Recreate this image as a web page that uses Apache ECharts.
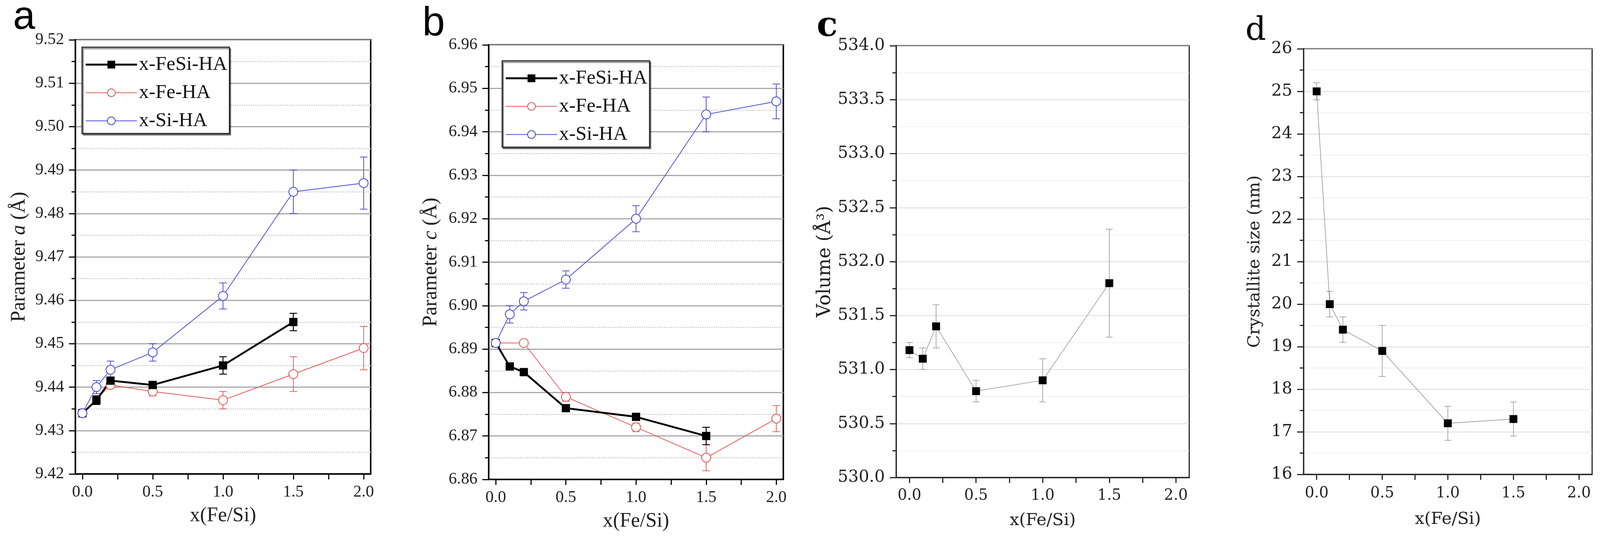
<!DOCTYPE html>
<html style="height:100%;width:100%">
<head>
<meta charset="UTF-8">
<title>Lattice parameters, volume and crystallite size</title>
<style type="text/css">
	html, body { margin:0; padding:0; width:100%; height:100%; overflow:hidden; background:#FFFFFF; }
	#container { width:100%; height:100%; }
</style>
<script src="https://cdn.jsdelivr.net/npm/echarts@6/dist/echarts.min.js"></script>
</head>
<body>
<div id="container"></div>

<script type="text/javascript">

// x positions (Fe/Si ratio) for each sample family
var xFeSi = [0, 0.1, 0.2, 0.5, 1.0, 1.5];
var xFe = [0, 0.2, 0.5, 1.0, 1.5, 2.0];
var xSi = [0, 0.1, 0.2, 0.5, 1.0, 1.5, 2.0];

// panel a: lattice parameter a (A)
var aFeSi = [9.434, 9.437, 9.4415, 9.4405, 9.445, 9.455];
var aFeSiErr = [0.0005, 0.001, 0.0005, 0.0005, 0.002, 0.002];
var aFe = [9.434, 9.4405, 9.439, 9.437, 9.443, 9.449];
var aFeErr = [0.0005, 0.0005, 0.001, 0.002, 0.004, 0.005];
var aSi = [9.434, 9.440, 9.444, 9.448, 9.461, 9.485, 9.487];
var aSiErr = [0.0005, 0.0015, 0.002, 0.002, 0.003, 0.005, 0.006];

// panel b: lattice parameter c (A)
var cFeSi = [6.8914, 6.886, 6.8847, 6.8764, 6.8744, 6.870];
var cFeSiErr = [0.0005, 0.0005, 0.0005, 0.0005, 0.0005, 0.002];
var cFe = [6.8914, 6.8914, 6.879, 6.872, 6.865, 6.874];
var cFeErr = [0.0005, 0.0005, 0.001, 0.001, 0.003, 0.003];
var cSi = [6.8914, 6.898, 6.901, 6.906, 6.920, 6.944, 6.947];
var cSiErr = [0.0005, 0.002, 0.002, 0.002, 0.003, 0.004, 0.004];

// panel c: cell volume (A^3), panel d: crystallite size (nm)
var xSingle = [0, 0.1, 0.2, 0.5, 1.0, 1.5];
var volume = [531.18, 531.10, 531.40, 530.80, 530.90, 531.80];
var volumeErr = [0.07, 0.1, 0.2, 0.1, 0.2, 0.5];
var crystSize = [25.0, 20.0, 19.4, 18.9, 17.2, 17.3];
var crystSizeErr = [0.2, 0.3, 0.3, 0.6, 0.4, 0.4];

// axis ticks
var xTickValues = [0, 0.25, 0.5, 0.75, 1.0, 1.25, 1.5, 1.75, 2.0];
var xLabelValues = [0, 0.5, 1.0, 1.5, 2.0];
var legendNames = ['x-FeSi-HA', 'x-Fe-HA', 'x-Si-HA'];

var serifAB = 'Liberation Serif';
var serifCD = 'DejaVu Serif';
var colBlack = '#000000';
var colRed = '#E25A5A';
var colBlue = '#4B4BD2';
var colGray = '#8C8C8C';

var dom = document.getElementById('container');

// layout was measured on a 4269 x 1378 canvas, scale it to the real container
var sx = dom.clientWidth / 4269;
var sy = dom.clientHeight / 1378;
var ss = Math.min(sx, sy);
function X(v) { return v * sx; }
function Y(v) { return v * sy; }
function S(v) { return v * ss; }

function pairs(xs, ys) {
	var out = [];
	for (var i = 0; i < xs.length; i++) out.push([xs[i], ys[i]]);
	return out;
}

function errData(xs, ys, es) {
	var out = [];
	for (var i = 0; i < xs.length; i++) out.push([xs[i], ys[i] - es[i], ys[i] + es[i]]);
	return out;
}

// vertical bar with caps, placed through the axis scales
function errRender(color, width, cap) {
	return function (params, api) {
		var x = api.value(0);
		var top = api.coord([x, api.value(2)]);
		var bot = api.coord([x, api.value(1)]);
		var st = { stroke: color, lineWidth: S(width) };
		var c = S(cap);
		return {
			type: 'group',
			children: [
				{ type: 'line', shape: { x1: top[0], y1: top[1], x2: bot[0], y2: bot[1] }, style: st },
				{ type: 'line', shape: { x1: top[0] - c, y1: top[1], x2: top[0] + c, y2: top[1] }, style: st },
				{ type: 'line', shape: { x1: bot[0] - c, y1: bot[1], x2: bot[0] + c, y2: bot[1] }, style: st }
			]
		};
	};
}

function errSeries(idx, data, color, width, cap) {
	return {
		type: 'custom', xAxisIndex: idx, yAxisIndex: idx,
		renderItem: errRender(color, width, cap),
		encode: { x: 0, y: [1, 2] },
		data: data, silent: true, animation: false
	};
}

function lineSeries(idx, name, data, color, symbol, size, width, markColor) {
	return {
		type: 'line', name: name, xAxisIndex: idx, yAxisIndex: idx,
		data: data, symbol: symbol, symbolSize: S(size), showAllSymbol: true,
		lineStyle: { color: color, width: S(width) },
		itemStyle: { color: markColor || color, borderColor: markColor || color, borderWidth: symbol == 'emptyCircle' ? S(2) : 0 },
		emphasis: { disabled: true }, animation: false
	};
}

function xAxisFor(idx, font, frame, frameW, labelSize, labelMargin, nameSize, nameGap, min, max) {
	return {
		gridIndex: idx, type: 'value', min: min, max: max,
		axisLine: { show: true, onZero: false, lineStyle: { color: frame, width: S(frameW) } },
		axisTick: { show: true, customValues: xTickValues, length: Y(14), lineStyle: { color: frame, width: S(3) } },
		axisLabel: {
			customValues: xLabelValues, margin: Y(labelMargin),
			fontFamily: font, fontSize: S(labelSize), color: '#222',
			formatter: function (v) { return v.toFixed(1); }
		},
		splitLine: { show: false },
		name: 'x(Fe/Si)', nameLocation: 'middle', nameGap: Y(nameGap),
		nameTextStyle: { fontFamily: font, fontSize: S(nameSize), color: '#222' }
	};
}

function yAxisFor(idx, font, frame, frameW, min, max, interval, digits, major, minor, minorType, name, nameSize, nameGap) {
	return {
		gridIndex: idx, type: 'value', min: min, max: max, interval: interval,
		axisLine: { show: true, onZero: false, lineStyle: { color: frame, width: S(frameW) } },
		axisTick: { show: true, length: X(17), lineStyle: { color: frame, width: S(3) } },
		minorTick: { show: true, splitNumber: 2, length: X(10), lineStyle: { color: frame, width: S(3) } },
		splitLine: { show: true, lineStyle: { color: major.color, width: S(major.width) } },
		minorSplitLine: { show: true, lineStyle: { color: minor.color, width: S(minor.width), type: minorType } },
		axisLabel: {
			margin: X(30), fontFamily: font, fontSize: S(44), color: '#222',
			formatter: function (v) { return v.toFixed(digits); }
		},
		name: name, nameLocation: 'middle', nameGap: X(nameGap),
		nameTextStyle: {
			fontFamily: font, fontSize: S(nameSize), color: '#222',
			rich: {
				a: { fontFamily: font, fontSize: S(nameSize), color: '#222' },
				i: { fontFamily: font, fontSize: S(nameSize), fontStyle: 'italic', color: '#222' }
			}
		}
	};
}

var majorAB = { color: '#A9A9A9', width: 3 };
var minorAB = { color: '#CDCDCD', width: 3 };
var majorCD = { color: '#CFCFCF', width: 1.5 };
var minorCD = { color: '#EBEBEB', width: 1.5 };

function legendAt(left, top) {
	return {
		data: legendNames, orient: 'vertical', left: X(left), top: Y(top),
		padding: [Y(19), X(6), Y(7), X(7)], itemGap: Y(21), itemWidth: X(137), itemHeight: S(26),
		itemTextGap: X(14),
		lineStyle: { width: 'inherit' },
		backgroundColor: '#FFFFFF', borderColor: '#222', borderWidth: S(3),
		shadowColor: 'rgba(0,0,0,0.45)', shadowOffsetX: S(3), shadowOffsetY: S(4), shadowBlur: 0,
		textStyle: { fontFamily: serifAB, fontSize: S(53), color: '#111' },
		selectedMode: false
	};
}

function grid(left, top, width, height, border, borderW) {
	return {
		left: X(left), top: Y(top), width: X(width), height: Y(height),
		show: true, borderColor: border, borderWidth: S(borderW), outerBoundsMode: 'none'
	};
}

function panelLabel(text, left, top, font, size, weight) {
	return {
		text: text, left: X(left), top: Y(top), padding: 0,
		textStyle: { fontFamily: font, fontSize: S(size), fontWeight: weight, color: '#000' }
	};
}

var myChart = echarts.init(dom, null, { renderer: 'canvas' });

var option = {
	backgroundColor: '#FFFFFF',
	animation: false,
	title: [
		panelLabel('a', 35, -5, 'Liberation Sans', 106, 'normal'),
		panelLabel('b', 1127, 9, 'Liberation Sans', 108, 'normal'),
		panelLabel('c', 2179, 25, serifCD, 92, 'bold'),
		panelLabel('d', 3323, 39, serifCD, 86, 'normal')
	],
	legend: [legendAt(219, 121), legendAt(1340, 156)],
	grid: [
		grid(201, 102, 788, 1112, '#000', 4),
		grid(1304, 115, 786, 1113, '#000', 4),
		grid(2391, 117, 782, 1106, '#222', 3),
		grid(3478, 125, 770, 1090, '#222', 3)
	],
	xAxis: [
		xAxisFor(0, serifAB, '#000', 4, 44, 26, 54, 81, -0.05, 2.05),
		xAxisFor(1, serifAB, '#000', 4, 44, 26, 54, 81, -0.05, 2.05),
		xAxisFor(2, serifCD, '#222', 3, 40, 28, 45, 89, -0.1, 2.1),
		xAxisFor(3, serifCD, '#222', 3, 40, 30, 45, 94, -0.1, 2.1)
	],
	yAxis: [
		yAxisFor(0, serifAB, '#000', 4, 9.42, 9.52, 0.01, 2, majorAB, minorAB, 'dotted', '{a|Parameter }{i|a}{a| (Å)}', 54, 122),
		yAxisFor(1, serifAB, '#000', 4, 6.86, 6.96, 0.01, 2, majorAB, minorAB, 'dotted', '{a|Parameter }{i|c}{a| (Å)}', 54, 127),
		yAxisFor(2, serifCD, '#222', 3, 530, 534, 0.5, 1, majorCD, minorCD, 'solid', 'Volume (Å³)', 50, 164),
		yAxisFor(3, serifCD, '#222', 3, 16, 26, 1, 0, majorCD, minorCD, 'solid', 'Crystallite size (nm)', 45, 107)
	],
	series: [
		// panel a
		errSeries(0, errData(xFe, aFe, aFeErr), colRed, 2, 10),
		lineSeries(0, 'x-Fe-HA', pairs(xFe, aFe), colRed, 'emptyCircle', 24, 2),
		errSeries(0, errData(xFeSi, aFeSi, aFeSiErr), colBlack, 2.5, 10),
		lineSeries(0, 'x-FeSi-HA', pairs(xFeSi, aFeSi), colBlack, 'rect', 22, 5),
		errSeries(0, errData(xSi, aSi, aSiErr), colBlue, 2, 10),
		lineSeries(0, 'x-Si-HA', pairs(xSi, aSi), colBlue, 'emptyCircle', 24, 2),
		// panel b
		errSeries(1, errData(xFe, cFe, cFeErr), colRed, 2, 10),
		lineSeries(1, 'x-Fe-HA', pairs(xFe, cFe), colRed, 'emptyCircle', 24, 2),
		errSeries(1, errData(xFeSi, cFeSi, cFeSiErr), colBlack, 2.5, 10),
		lineSeries(1, 'x-FeSi-HA', pairs(xFeSi, cFeSi), colBlack, 'rect', 22, 5),
		errSeries(1, errData(xSi, cSi, cSiErr), colBlue, 2, 10),
		lineSeries(1, 'x-Si-HA', pairs(xSi, cSi), colBlue, 'emptyCircle', 24, 2),
		// panel c: gray line, black markers
		errSeries(2, errData(xSingle, volume, volumeErr), colGray, 1.5, 9),
		lineSeries(2, 'Volume', pairs(xSingle, volume), colGray, 'rect', 21, 1.5, colBlack),
		// panel d
		errSeries(3, errData(xSingle, crystSize, crystSizeErr), colGray, 1.5, 9),
		lineSeries(3, 'Crystallite size', pairs(xSingle, crystSize), colGray, 'rect', 21, 1.5, colBlack)
	]
};

myChart.setOption(option, true);

window.onresize = function () {
	myChart.resize();
};

</script>
</body>
</html>
